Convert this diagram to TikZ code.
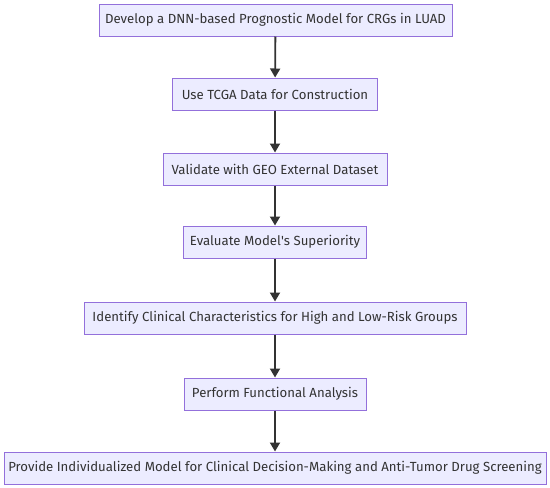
\documentclass[tikz,border=0pt]{standalone}
\usepackage{fontspec}
\setmainfont{Fira Sans}
\usetikzlibrary{arrows.meta}
\definecolor{boxfill}{HTML}{ECECFF}
\definecolor{boxline}{HTML}{9370DB}
\definecolor{arrowc}{HTML}{333333}
\begin{document}
\begin{tikzpicture}[x=1pt,y=-1pt,
  stepbox/.style={draw=boxline,fill=boxfill,line width=1pt,minimum height=32pt,inner sep=0pt,font=\fontsize{13.2pt}{15pt}\selectfont,text=arrowc},
  flow/.style={draw=arrowc,line width=1.8pt,-{Triangle[length=9pt,width=10pt]}}]
\useasboundingbox (0,0) rectangle (550,488);
\node[stepbox,minimum width=353pt] (n1) at (275.5,20) {Develop a DNN-based Prognostic Model for CRGs in LUAD};
\node[stepbox,minimum width=205pt] (n2) at (275,94) {Use TCGA Data for Construction};
\node[stepbox,minimum width=224pt] (n3) at (275,169) {Validate with GEO External Dataset};
\node[stepbox,minimum width=183pt] (n4) at (275,242) {Evaluate Model\textquotesingle s Superiority};
\node[stepbox,minimum width=382pt] (n5) at (275,318) {Identify Clinical Characteristics for High and Low-Risk Groups};
\node[stepbox,minimum width=182pt] (n6) at (275,394) {Perform Functional Analysis};
\node[stepbox,minimum width=542pt] (n7) at (275,468) {Provide Individualized Model for Clinical Decision-Making and Anti-Tumor Drug Screening};
\draw[flow] (n1) -- (n2);
\draw[flow] (n2) -- (n3);
\draw[flow] (n3) -- (n4);
\draw[flow] (n4) -- (n5);
\draw[flow] (n5) -- (n6);
\draw[flow] (n6) -- (n7);
\end{tikzpicture}
\end{document}
